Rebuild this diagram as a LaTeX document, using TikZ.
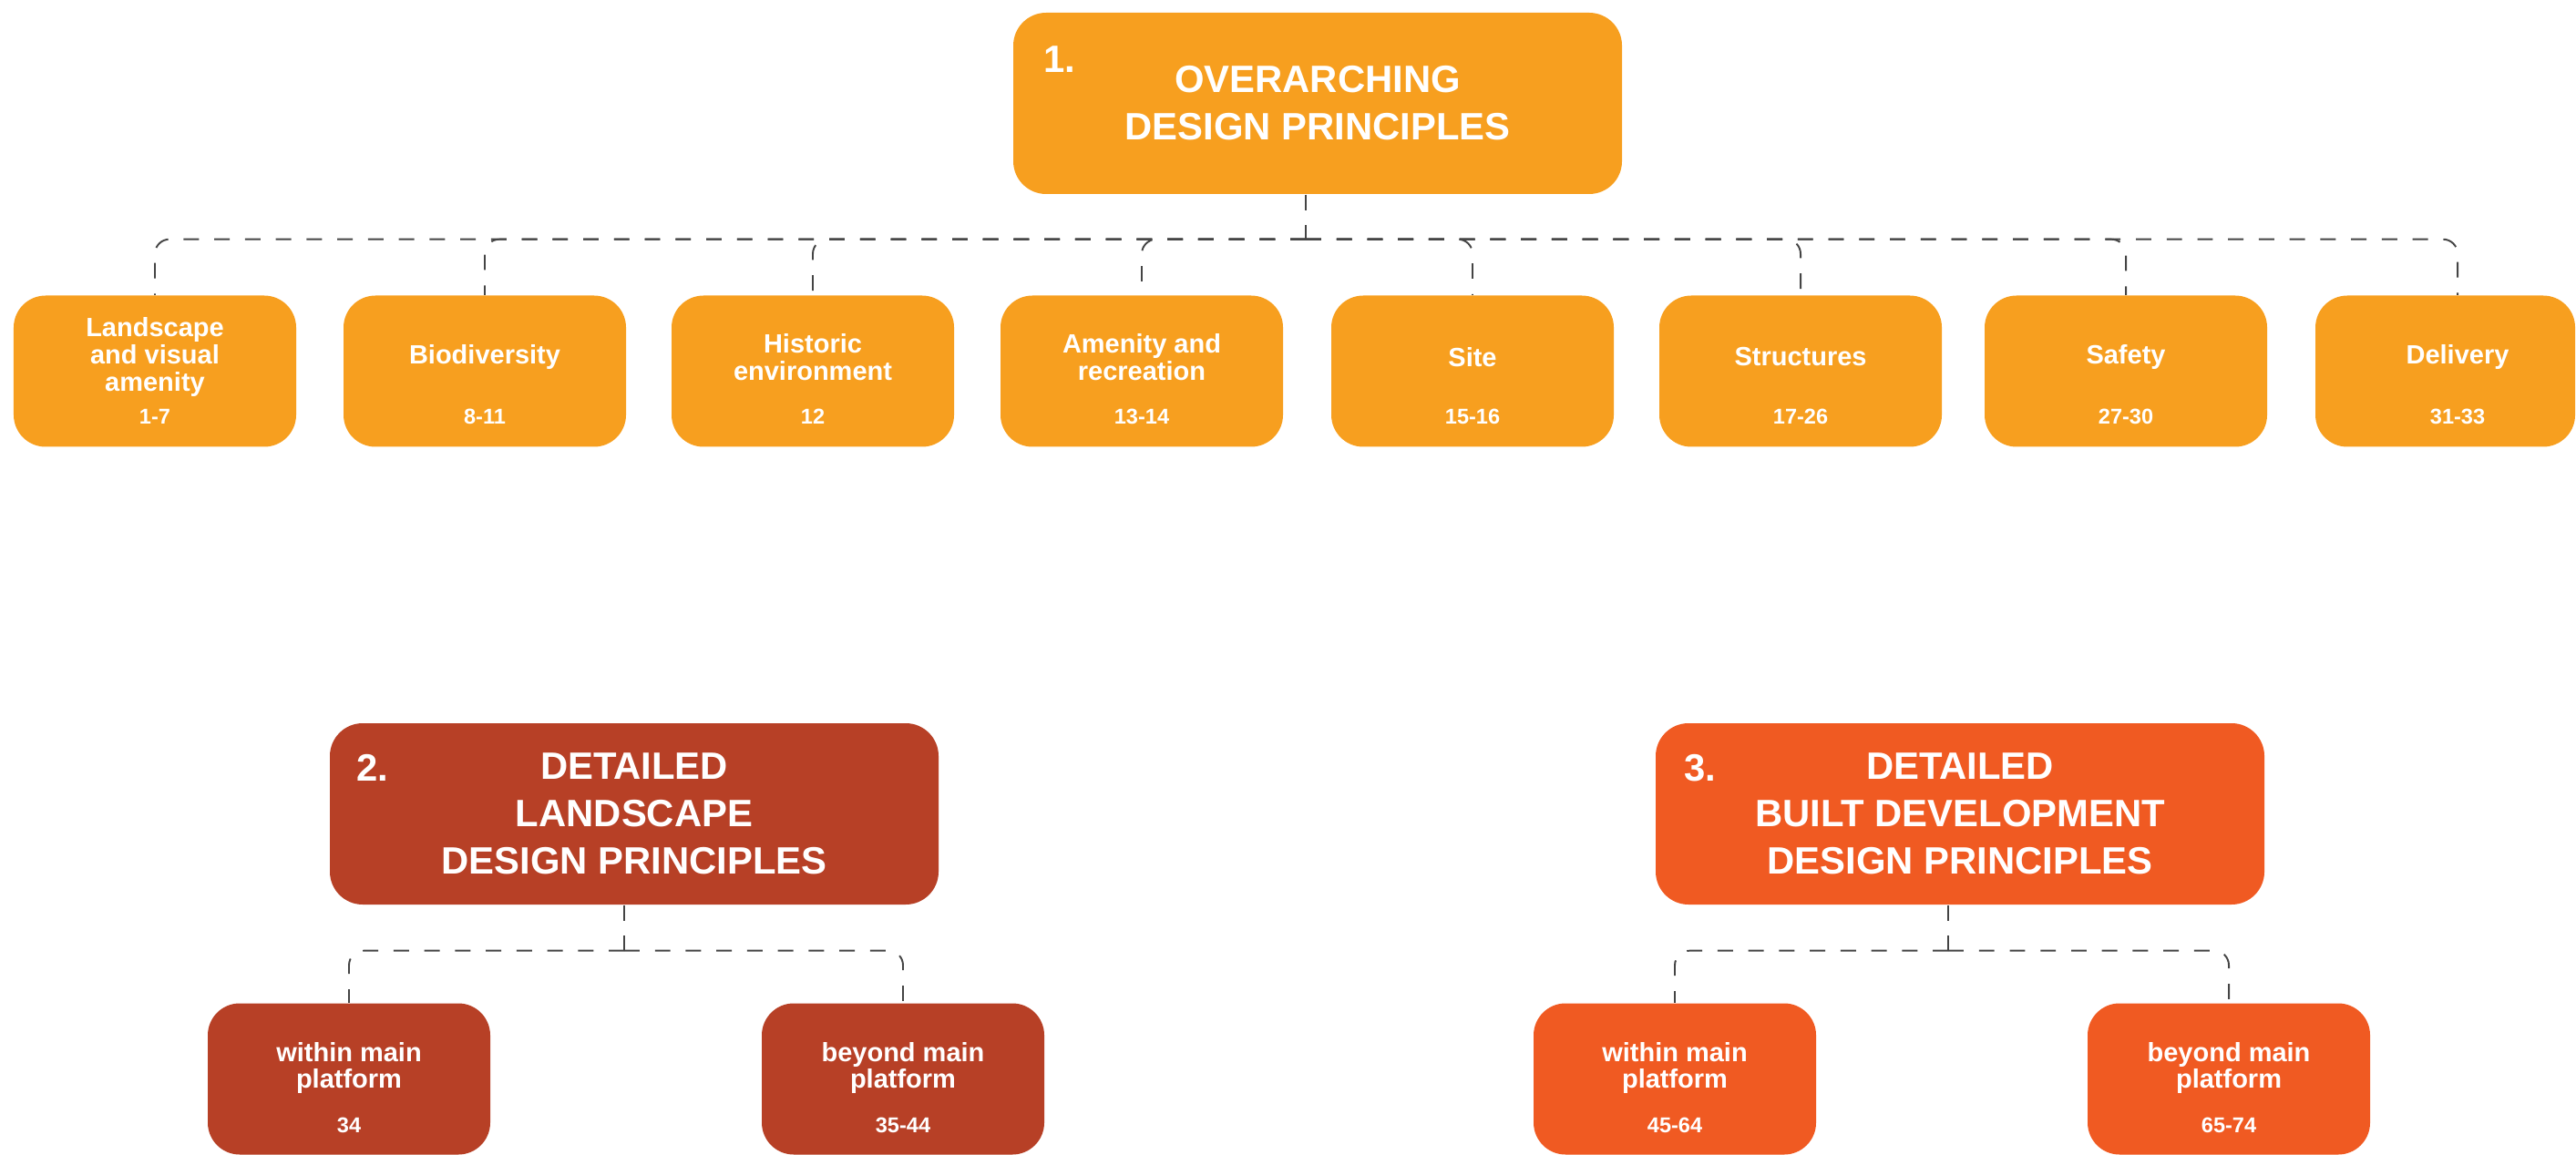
\documentclass[tikz,border=0pt]{standalone}
\usepackage{fontspec}
\setmainfont{Liberation Sans}
\definecolor{ovorange}{RGB}{247,159,31}
\definecolor{lsbrown}{RGB}{183,64,38}
\definecolor{bdorange}{RGB}{240,90,34}
\definecolor{linkgrey}{RGB}{68,68,68}

\begin{document}
\begin{tikzpicture}[x=1cm,y=1cm,
    head/.style={rounded corners=3.6mm,minimum width=6.68cm,minimum height=1.99cm,inner sep=0pt,
      text=white,align=center,font=\fontsize{11.9}{14.8}\selectfont\bfseries},
    headno/.style={anchor=west,inner sep=0pt,text=white,font=\fontsize{11.9}{14}\selectfont\bfseries},
    topic/.style={rounded corners=3.5mm,minimum width=3.1cm,minimum height=1.66cm,inner sep=0pt,fill=ovorange},
    lbl/.style={inner sep=0pt,text=white,align=center,font=\fontsize{8.25}{8.5}\selectfont\bfseries},
    num/.style={inner sep=0pt,text=white,font=\fontsize{6.7}{8}\selectfont\bfseries},
    link/.style={draw=linkgrey,line width=.55pt,dash pattern=on 4.8pt off 4.8pt,rounded corners=1.6mm}]
    \useasboundingbox (0,0) rectangle (28.27,-12.68);
    % 1. overarching principles
    \node[head,fill=ovorange] (p1) at (14.46,-1.135) {OVERARCHING\\DESIGN PRINCIPLES};
    \node[headno] (p1no) at (11.45,-.65) {1.};
    \node[topic] (c1) at (1.70,-4.075) {};
    \node[lbl] (c1t) at ([yshift=1.55mm]c1.center) {Landscape\\and visual\\amenity};
    \node[num] (c1n) at ([yshift=-4.95mm]c1.center) {1-7};
    \node[topic] (c2) at (5.32,-4.075) {};
    \node[lbl] (c2t) at ([yshift=1.55mm]c2.center) {Biodiversity};
    \node[num] (c2n) at ([yshift=-4.95mm]c2.center) {8-11};
    \node[topic] (c3) at (8.92,-4.075) {};
    \node[lbl] (c3t) at ([yshift=1.55mm]c3.center) {Historic\\environment};
    \node[num] (c3n) at ([yshift=-4.95mm]c3.center) {12};
    \node[topic] (c4) at (12.53,-4.075) {};
    \node[lbl] (c4t) at ([yshift=1.55mm]c4.center) {Amenity and\\recreation};
    \node[num] (c4n) at ([yshift=-4.95mm]c4.center) {13-14};
    \node[topic] (c5) at (16.16,-4.075) {};
    \node[lbl] (c5t) at ([yshift=1.55mm]c5.center) {Site};
    \node[num] (c5n) at ([yshift=-4.95mm]c5.center) {15-16};
    \node[topic] (c6) at (19.76,-4.075) {};
    \node[lbl] (c6t) at ([yshift=1.55mm]c6.center) {Structures};
    \node[num] (c6n) at ([yshift=-4.95mm]c6.center) {17-26};
    \node[topic] (c7) at (23.33,-4.075) {};
    \node[lbl] (c7t) at ([yshift=1.55mm]c7.center) {Safety};
    \node[num] (c7n) at ([yshift=-4.95mm]c7.center) {27-30};
    \node[topic,minimum width=2.85cm] (c8) at (26.835,-4.075) {};
    \node[lbl] (c8t) at ([xshift=1.35mm,yshift=1.55mm]c8.center) {Delivery};
    \node[num] (c8n) at ([xshift=1.35mm,yshift=-4.95mm]c8.center) {31-33};
    \coordinate (p1bus) at ([xshift=-1.3mm,yshift=-4.9mm]p1.south);
    \draw[link] ([xshift=-1.3mm]p1.south) -- (p1bus);
    \draw[link] (p1bus) -| (c1.north);
    \draw[link] (p1bus) -| (c2.north);
    \draw[link] (p1bus) -| (c3.north);
    \draw[link] (p1bus) -| (c4.north);
    \draw[link] (p1bus) -| (c5.north);
    \draw[link] (p1bus) -| (c6.north);
    \draw[link] (p1bus) -| (c7.north);
    \draw[link] (p1bus) -| (c8t.north |- c8.north);
    % 2. detailed landscape
    \node[head,fill=lsbrown] (p2) at (6.96,-8.935) {DETAILED\\LANDSCAPE\\DESIGN PRINCIPLES};
    \node[headno] (p2no) at (3.91,-8.43) {2.};
    \node[topic,fill=lsbrown] (l1) at (3.83,-11.845) {};
    \node[lbl] (l1t) at ([yshift=1.2mm]l1.center) {within main\\platform};
    \node[num] (l1n) at ([yshift=-5.1mm]l1.center) {34};
    \node[topic,fill=lsbrown] (l2) at (9.91,-11.845) {};
    \node[lbl] (l2t) at ([yshift=1.2mm]l2.center) {beyond main\\platform};
    \node[num] (l2n) at ([yshift=-5.1mm]l2.center) {35-44};
    \coordinate (p2bus) at ([xshift=-1.1mm,yshift=-5mm]p2.south);
    \draw[link] ([xshift=-1.1mm]p2.south) -- (p2bus);
    \draw[link] (p2bus) -| (l1.north);
    \draw[link] (p2bus) -| (l2.north);
    % 3. detailed built development
    \node[head,fill=bdorange] (p3) at (21.51,-8.935) {DETAILED\\BUILT DEVELOPMENT\\DESIGN PRINCIPLES};
    \node[headno] (p3no) at (18.48,-8.43) {3.};
    \node[topic,fill=bdorange] (b1) at (18.38,-11.845) {};
    \node[lbl] (b1t) at ([yshift=1.2mm]b1.center) {within main\\platform};
    \node[num] (b1n) at ([yshift=-5.1mm]b1.center) {45-64};
    \node[topic,fill=bdorange] (b2) at (24.46,-11.845) {};
    \node[lbl] (b2t) at ([yshift=1.2mm]b2.center) {beyond main\\platform};
    \node[num] (b2n) at ([yshift=-5.1mm]b2.center) {65-74};
    \coordinate (p3bus) at ([xshift=-1.3mm,yshift=-5mm]p3.south);
    \draw[link] ([xshift=-1.3mm]p3.south) -- (p3bus);
    \draw[link] (p3bus) -| (b1.north);
    \draw[link] (p3bus) -| (b2.north);
  \end{tikzpicture}
\end{document}
